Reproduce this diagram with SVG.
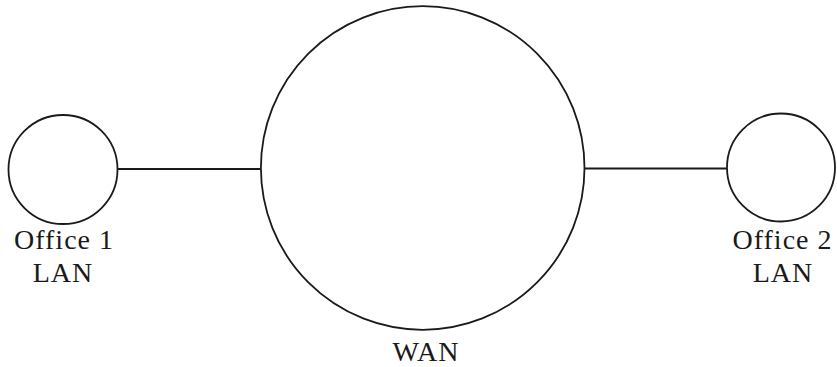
<svg xmlns="http://www.w3.org/2000/svg" width="837" height="367" viewBox="0 0 837 367">
<style>
.n{fill:#fff;stroke:#1a1a1a;stroke-width:1.8}
.c{stroke:#1a1a1a;stroke-width:1.8;fill:none}
.t{font-family:"Liberation Serif","Times New Roman",serif;font-size:28px;fill:#1a1a1a;text-anchor:middle;letter-spacing:1px}
</style>
<rect width="837" height="367" fill="#fff"/>
<g id="connectors">
<line class="c" x1="117.5" y1="169" x2="261" y2="169"/>
<line class="c" x1="584.5" y1="168.5" x2="727" y2="168.5"/>
</g>
<g id="office1">
<circle class="n" cx="63" cy="169.5" r="54.5"/>
<text class="t" x="64" y="249">Office 1</text>
<text class="t" x="63" y="281.5">LAN</text>
</g>
<g id="wan">
<circle class="n" cx="422.7" cy="168" r="161.8"/>
<text class="t" x="426" y="360.5">WAN</text>
</g>
<g id="office2">
<circle class="n" cx="781" cy="167.5" r="54"/>
<text class="t" x="782.5" y="249">Office 2</text>
<text class="t" x="783" y="281.5">LAN</text>
</g>
</svg>
